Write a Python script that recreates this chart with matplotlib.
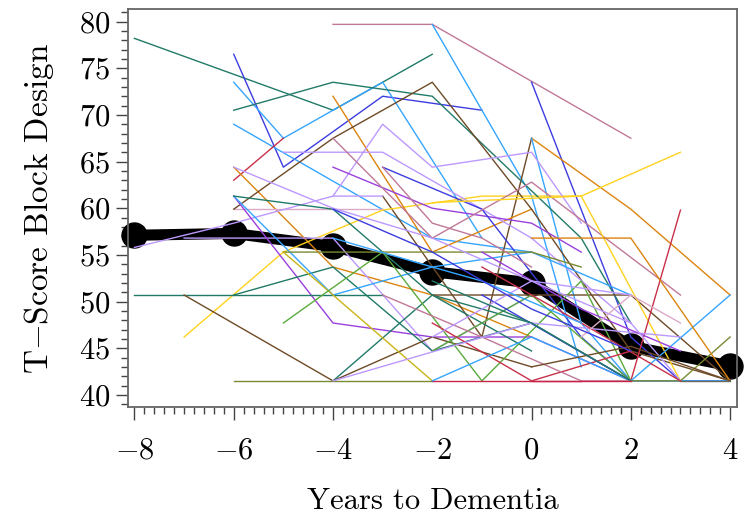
import numpy as np
import matplotlib
matplotlib.use("Agg")
import matplotlib.pyplot as plt
from matplotlib.ticker import MultipleLocator

# mean trajectory (thick black)
mean_years = [-8, -6, -4, -2, 0, 2, 4]
mean_scores = [57.1, 57.3, 55.9, 53.2, 52.0, 45.2, 43.1]

# individual subjects: colour, years, T-scores
subj_colors = [
    'teal', 'blue', 'lblue', 'lblue', 'red', 'orange', 'pink', 'mauve',
    'blue', 'lblue', 'brown', 'orange', 'lblue', 'yellow', 'orange', 'teal',
    'brown', 'lav', 'lav', 'lav', 'lav', 'purple', 'purple', 'blue',
    'teal', 'teal', 'brown', 'teal', 'brown', 'lblue', 'teal', 'olive',
    'oyellow', 'green', 'green', 'olive', 'crimson', 'red', 'blue', 'lblue',
    'mauve', 'mauve', 'yellow', 'red', 'lblue', 'olive', 'orange', 'lav',
    'purple', 'lav', 'mauve', 'brown', 'teal', 'crimson', 'gray', 'red',
    'lblue', 'lav', 'pink', 'blue',
]
subj_years = [
    [-8, -4, -2], [-6, -5, -3, -1], [-6, -5, -3, -1], [-6, -2, 0], [-6, -5],
    [-6, -4, -2, 0], [-6, -4, -3], [-4, -2, 2], [0, 2, 3], [-2, 0, 1],
    [-3, -1, 0], [0, 2, 4], [0, 1, 2], [-7, -5, -3, -1, 1, 3], [-4, -2, 0],
    [-6, -4, -2, 1, 2], [-6, -4, -2, 0, 2, 4], [-5, -3, -1, 0, 2], [-4, -3, -2, 0, 1],
    [-8, -6, -4, -3], [-7, -4, -2, 0], [-6, -4, -2, 0, 2], [-4, -2, 0, 1],
    [-3, -1, 1, 2], [-8, -3], [-6, -4, -2, 0], [-7, -4, -2, 0], [-4, -2, 0, 2],
    [-2, 2, 4], [-6, -4, -2, 0, 2], [-6, -4, -3, -2, 0], [-5, -2, 0, 1],
    [-5, -2], [-5, -3, -1, 1, 2], [-2, 0, 2], [-6, -4, -2], [-2, -1, 1],
    [-2, 0, 2], [-1, 2, 4], [-2, 0, 2, 4], [-4, -2, 0, 3], [-3, -1, 1, 2],
    [-2, 1, 3], [2, 3], [2, 4], [2, 3, 4], [0, 2, 4], [-4, 0, 3],
    [-1, 1, 3], [-2, 0, 2, 3], [-3, -2, -1, 0], [0, 2, 4], [-2, 0, 2],
    [0, 1, 2], [3, 4], [-1, 1, 3], [-4, -2, -1, 1], [-6, -4, -2, 0, 2], [1, 2, 3],
    [-4, -2, 0, 2],
]
subj_scores = [
    [78.2, 70.5, 76.5], [76.5, 64.4, 72.0, 70.5], [73.5, 67.5, 73.5, 56.8],
    [69.0, 56.8, 55.3], [63.0, 67.5], [64.4, 53.7, 50.7, 46.2], [59.9, 59.9, 59.9],
    [79.7, 79.7, 67.5], [73.5, 46.2, 41.5], [79.7, 61.3, 43.0], [61.3, 46.2, 67.5],
    [67.5, 59.9, 50.7], [67.5, 47.7, 41.5], [46.2, 55.3, 59.8, 61.3, 61.3, 66.0],
    [72.0, 55.3, 59.9], [70.5, 73.5, 72.0, 56.8, 47.7], [59.9, 67.5, 73.5, 59.9, 44.7, 41.5],
    [66.0, 66.0, 59.9, 56.8, 47.7], [61.3, 69.0, 64.4, 66.0, 58.4],
    [55.8, 58.4, 61.3, 61.3], [56.8, 56.8, 44.7, 50.7], [61.3, 47.7, 46.2, 46.2, 41.5],
    [64.4, 60.0, 58.4, 55.3], [64.4, 59.9, 46.2, 41.5], [50.7, 50.7],
    [50.7, 53.7, 44.7, 47.7], [50.7, 41.5, 46.2, 43.0], [41.5, 50.7, 47.7, 41.5],
    [50.7, 50.7, 41.5], [61.3, 50.7, 53.7, 55.3, 50.7], [61.3, 59.9, 55.3, 50.7, 44.7],
    [55.3, 55.3, 55.3, 53.7], [55.3, 41.5], [47.7, 55.3, 41.5, 52.2, 41.5],
    [44.7, 50.7, 41.5], [41.5, 41.5, 41.5], [41.5, 41.5, 41.5], [47.7, 41.5, 44.7],
    [50.7, 41.5, 41.5], [41.5, 46.2, 41.5, 41.5], [67.5, 56.8, 62.8, 50.7],
    [50.7, 46.2, 41.5, 41.5], [60.6, 61.3, 41.5], [41.5, 59.8], [41.5, 50.7],
    [41.5, 41.5, 46.2], [56.8, 56.8, 41.5], [41.5, 47.7, 46.2], [55.3, 49.2, 44.7],
    [46.2, 52.2, 47.7, 41.5], [64.4, 58.4, 56.8, 53.7], [43.0, 45.2, 41.5],
    [52.2, 47.7, 41.5], [41.5, 41.5, 41.5], [41.5, 41.5], [53.7, 47.7, 41.5],
    [56.8, 53.7, 52.2, 47.7], [64.4, 60.0, 56.8, 52.2, 50.7], [46.2, 50.7, 47.7],
    [59.9, 55.3, 49.2, 44.7],
]

palette = {
    'teal': '#217a68', 'blue': '#3c3ce0', 'lblue': '#35a5ff', 'red': '#c8304a',
    'orange': '#dc8410', 'pink': '#dcaac8', 'mauve': '#c07898', 'brown': '#6e4a26',
    'lav': '#bc98ff', 'purple': '#9a40dc', 'yellow': '#ffd21e', 'oyellow': '#c8b418',
    'green': '#5aaa3c', 'olive': '#7a8a30', 'crimson': '#c8244a', 'gray': '#6a6a5a',
}

plt.rcParams['font.family'] = 'cmr10'
plt.rcParams['mathtext.fontset'] = 'cm'
plt.rcParams['axes.formatter.use_mathtext'] = True

fig = plt.figure(figsize=(7.46, 5.19), dpi=100)
ax = fig.add_axes([0.1716, 0.2158, 0.8164, 0.766])

ax.plot(mean_years, mean_scores, color='black', lw=8, marker='o',
        markersize=18, zorder=2, clip_on=False, solid_capstyle='round')

for c, xs, ys in zip(subj_colors, subj_years, subj_scores):
    ax.plot(xs, ys, color=palette[c], lw=1.0, zorder=3)

ax.set_xlim(-8.13, 4.14)
ax.set_ylim(38.7, 81.3)
ax.xaxis.set_major_locator(MultipleLocator(2))
ax.xaxis.set_minor_locator(MultipleLocator(0.2))
ax.yaxis.set_major_locator(MultipleLocator(5))
ax.yaxis.set_minor_locator(MultipleLocator(1))

for s in ax.spines.values():
    s.set_color('#666666')
    s.set_linewidth(1.3)
ax.tick_params(which='major', length=9, width=1.0, color='#444444', labelsize=22)
ax.tick_params(which='minor', length=5, width=1.0, color='#444444')
ax.tick_params(axis='x', which='major', pad=13)
ax.tick_params(axis='y', which='major', pad=4)

ax.set_xlabel('Years to Dementia', fontsize=22, labelpad=16)
ax.set_ylabel('T$-$Score Block Design', fontsize=24, labelpad=16)

fig.savefig('out.png', dpi=100)
